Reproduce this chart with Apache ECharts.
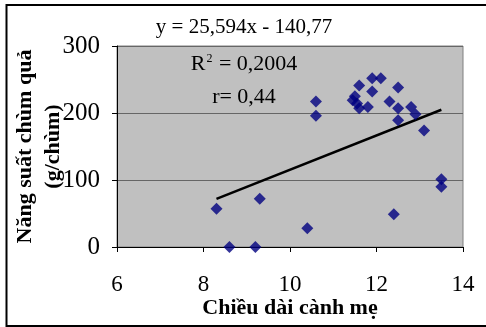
<!DOCTYPE html>
<html>
<head>
<meta charset="utf-8">
<script src="https://cdn.jsdelivr.net/npm/echarts@6/dist/echarts.min.js"></script>
<style>
  html, body { margin: 0; padding: 0; background: #fff; }
  #chart { width: 486px; height: 327px; }
</style>
</head>
<body>
<div id="chart"></div>
<script>
// chiều dài cành mẹ (cm) và năng suất chùm quả (g/chùm)
const lengthX = [8.3, 8.6, 9.2, 9.3, 10.4, 10.6, 10.6, 11.45, 11.5, 11.55, 11.6, 11.6, 11.8,
  11.9, 11.9, 12.1, 12.3, 12.4, 12.5, 12.5, 12.5, 12.8, 12.9, 13.1, 13.5, 13.5];
const yieldY = [57, 0, 0, 72, 28, 217, 196, 219, 225, 214, 207, 241, 209,
  252, 232, 252, 217, 49, 238, 207, 189, 209, 198, 174, 101, 90];
// đường xu hướng
const trendX = [8.3, 13.5];
const trendY = [71.7, 204.8];
const xTicks = [6, 8, 10, 12, 14];
const yTicks = [0, 100, 200, 300];
const labels = ["y = 25,594x - 140,77", "R{sup|2} = 0,2004", "r= 0,44"];

const font = "Liberation Serif";
const chart = echarts.init(document.getElementById("chart"));
const option = {
  animation: false,
  backgroundColor: "#fff",
  grid: {
    left: 117,
    right: 23,
    top: 46,
    bottom: 80,
    outerBoundsMode: "none",
    show: true,
    backgroundColor: "#c0c0c0",
    borderColor: "#808080",
    borderWidth: 1
  },
  xAxis: {
    type: "value",
    min: xTicks[0],
    max: xTicks[xTicks.length - 1],
    interval: 2,
    name: "Chiều dài cành mẹ",
    nameLocation: "middle",
    nameGap: 50,
    nameMoveOverlap: false,
    nameTextStyle: { fontFamily: font, fontSize: 22, fontWeight: "bold", color: "#000" },
    axisLine: { lineStyle: { color: "#000", width: 1 } },
    axisTick: { show: true, length: 5, lineStyle: { color: "#000" } },
    axisLabel: { margin: 26, fontFamily: font, fontSize: 23, color: "#000" },
    splitLine: { show: false }
  },
  yAxis: {
    type: "value",
    min: yTicks[0],
    max: yTicks[yTicks.length - 1],
    interval: 100,
    name: "Năng suất chùm quả\n(g/chùm)",
    nameLocation: "middle",
    nameRotate: 90,
    nameGap: 50,
    nameMoveOverlap: false,
    nameTextStyle: { fontFamily: font, fontSize: 22, fontWeight: "bold", color: "#000", lineHeight: 28 },
    axisLine: { show: true, lineStyle: { color: "#000", width: 1 } },
    axisTick: { show: true, length: 5, lineStyle: { color: "#000" } },
    axisLabel: { margin: 17, fontFamily: font, fontSize: 25, color: "#000" },
    splitLine: { show: true, lineStyle: { color: "#666", width: 1 } }
  },
  graphic: [
    {
      type: "rect",
      silent: true,
      shape: { x: 6.5, y: 5, width: 500, height: 321 },
      style: { fill: "none", stroke: "#000", lineWidth: 2 }
    },
    {
      type: "text",
      x: 244,
      y: 17,
      style: { text: labels[0], font: "21px " + font, fill: "#000", textAlign: "center" }
    },
    {
      type: "text",
      x: 244,
      y: 53,
      style: {
        text: labels[1], font: "22px " + font, fill: "#000", textAlign: "center",
        rich: { sup: { fontSize: 12, fontFamily: font, verticalAlign: "top", padding: [0, 1, 10, 1] } }
      }
    },
    {
      type: "text",
      x: 244,
      y: 86,
      style: { text: labels[2], font: "22px " + font, fill: "#000", textAlign: "center" }
    }
  ],
  series: [
    {
      type: "line",
      data: trendX.map((x, i) => [x, trendY[i]]),
      symbol: "none",
      lineStyle: { color: "#000", width: 2.5 },
      z: 2
    },
    {
      type: "scatter",
      data: lengthX.map((x, i) => [x, yieldY[i]]),
      symbol: "diamond",
      symbolSize: [12, 12],
      itemStyle: { color: "#000080" },
      z: 3
    }
  ]
};
chart.setOption(option);
</script>
</body>
</html>
